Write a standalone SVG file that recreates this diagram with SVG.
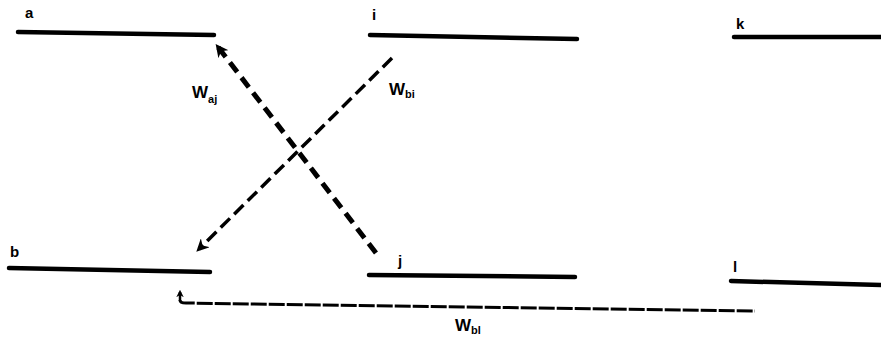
<svg xmlns="http://www.w3.org/2000/svg" width="881" height="343" viewBox="0 0 881 343">
<defs>
<marker id="ah" viewBox="0 0 10 10" refX="7" refY="5" markerWidth="2.6" markerHeight="2.6" orient="auto" markerUnits="strokeWidth">
<path d="M0,0 L10,5 L0,10 L3,5 z" fill="#000"/>
</marker>
<marker id="ah2" viewBox="0 0 10 10" refX="7" refY="5" markerWidth="3.6" markerHeight="3.6" orient="auto" markerUnits="strokeWidth">
<path d="M0,0 L10,5 L0,10 L3,5 z" fill="#000"/>
</marker>
<marker id="ah3" viewBox="0 0 10 10" refX="7" refY="5" markerWidth="3" markerHeight="3" orient="auto" markerUnits="strokeWidth">
<path d="M0,0 L10,5 L0,10 L3,5 z" fill="#000"/>
</marker>
</defs>
<style>
.lvl{stroke:#000;stroke-width:4.5;stroke-linecap:round;fill:none}
.lab{font-family:"Liberation Sans",Arial,sans-serif;font-weight:bold;font-size:15px;fill:#000}
.w{font-family:"Liberation Sans",Arial,sans-serif;font-weight:bold;font-size:17px;fill:#000}
.sub{font-size:11px}
</style>
<g id="node-a"><line class="lvl" x1="18" y1="32" x2="214" y2="35"/><text class="lab" x="25" y="18">a</text></g>
<g id="node-i"><line class="lvl" x1="370" y1="35" x2="577" y2="39"/><text class="lab" x="372" y="20">i</text></g>
<g id="node-k"><line class="lvl" x1="734" y1="37" x2="881" y2="37"/><text class="lab" x="736" y="29">k</text></g>
<g id="node-b"><line class="lvl" x1="9" y1="268" x2="210" y2="272"/><text class="lab" x="10" y="257">b</text></g>
<g id="node-j"><line class="lvl" x1="369" y1="275" x2="575" y2="277"/><text class="lab" x="398" y="266">j</text></g>
<g id="node-l"><line class="lvl" x1="731" y1="281" x2="881" y2="285"/><text class="lab" x="733" y="272">l</text></g>
<g id="connectors">
<line x1="376" y1="253" x2="218" y2="47" stroke="#000" stroke-width="5" stroke-dasharray="12 7" marker-end="url(#ah)"/>
<line x1="392" y1="58" x2="199" y2="249" stroke="#000" stroke-width="3.5" stroke-dasharray="13 6" marker-end="url(#ah2)"/>
<path d="M180,301 L180,292" stroke="#000" stroke-width="2.5" fill="none" marker-end="url(#ah3)"/>
<path d="M180,300 Q180,303 186,303 L755,311" stroke="#000" stroke-width="3" stroke-dasharray="16 2" fill="none"/>
</g>
<g id="labels">
<text class="w" x="192" y="98">W<tspan class="sub" dy="5">aj</tspan></text>
<text class="w" x="389" y="95">W<tspan class="sub" dy="3">bi</tspan></text>
<text class="w" x="455" y="331">W<tspan class="sub" dy="3">bl</tspan></text>
</g>
</svg>
